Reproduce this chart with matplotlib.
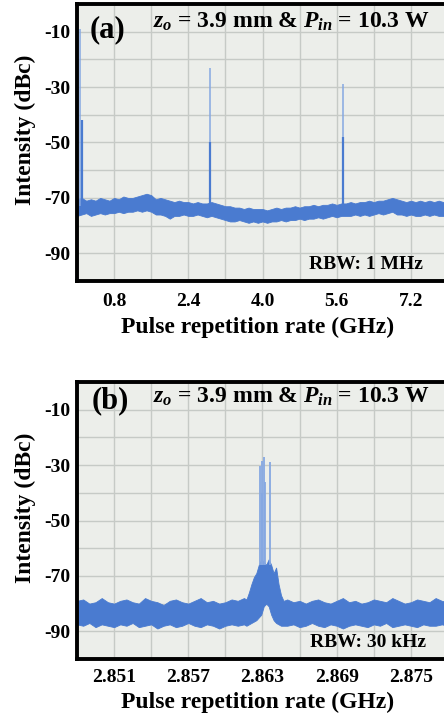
import matplotlib
matplotlib.use('Agg')
import matplotlib.pyplot as plt
import numpy as np

plt.rcParams['font.family'] = 'Liberation Serif'
plt.rcParams['font.weight'] = 'bold'
plt.rcParams['axes.unicode_minus'] = False
plt.rcParams['mathtext.fontset'] = 'custom'
plt.rcParams['mathtext.rm'] = 'Liberation Serif:bold'
plt.rcParams['mathtext.it'] = 'Liberation Serif:italic:bold'
plt.rcParams['mathtext.bf'] = 'Liberation Serif:bold'

# ---- (a) wide span, 0 - 8 GHz ----
fa = np.round(np.arange(0, 8.01, 0.1), 2)
top_a = [-70.5, -70.0, -71.0, -70.5, -71.0, -70.0, -70.5, -71.0, -70.0, -70.5,
         -69.5, -70.0, -70.0, -69.5, -69.0, -68.5, -69.0, -70.5, -70.0, -70.5,
         -71.0, -71.5, -71.0, -71.5, -71.5, -72.0, -71.5, -72.0, -72.0, -71.5,
         -72.0, -72.5, -73.0, -73.0, -73.5, -73.5, -74.0, -73.5, -74.0, -74.0,
         -74.0, -74.5, -74.0, -73.5, -74.0, -73.5, -73.5, -73.0, -73.5, -73.0,
         -73.0, -72.5, -73.0, -72.5, -72.5, -72.0, -72.5, -72.0, -72.0, -71.5,
         -72.0, -71.5, -71.5, -71.0, -71.5, -71.0, -71.0, -70.5, -70.0, -70.5,
         -71.0, -71.5, -71.0, -71.5, -71.0, -71.5, -71.0, -71.5, -71.0, -71.5, -71.5]
bot_a = [-76.5, -76.0, -75.5, -76.5, -76.0, -75.5, -76.0, -75.5, -75.5, -75.0,
         -75.5, -75.0, -75.0, -74.5, -75.0, -74.5, -75.0, -76.0, -76.0, -76.5,
         -77.5, -76.5, -76.5, -76.0, -76.5, -76.5, -76.0, -76.5, -77.0, -76.5,
         -77.0, -77.5, -78.0, -78.5, -78.5, -78.0, -78.5, -79.0, -78.5, -79.0,
         -78.5, -79.0, -78.5, -78.5, -78.0, -78.5, -78.0, -78.0, -77.5, -78.0,
         -77.5, -77.5, -77.0, -77.5, -77.0, -76.5, -77.0, -76.5, -76.5, -76.5,
         -76.0, -76.5, -76.0, -76.5, -76.0, -75.5, -76.0, -75.5, -75.0, -76.0,
         -76.0, -76.5, -76.0, -76.5, -76.5, -76.0, -76.5, -76.0, -76.5, -76.5, -76.0]
# harmonic lines (thin upper part, stronger lower part)
line_a_f = [0.07, 0.10, 2.863, 2.863, 5.726, 5.726]
line_a_top = [-9.0, -42.0, -23.0, -50.0, -29.0, -48.0]
line_a_strong = [False, True, False, True, False, True]

# ---- (b) zoom round the fundamental ----
fb_left = np.round(np.arange(2.848, 2.86151, 0.0005), 4)
top_b_left = [-79.0, -78.5, -80.0, -79.5, -78.0, -79.5, -80.0, -79.0, -78.5, -79.5,
              -80.0, -78.0, -79.0, -79.5, -80.5, -79.0, -78.5, -79.5, -80.0, -79.0,
              -78.0, -79.5, -79.0, -80.0, -79.5, -78.5, -79.0, -78.0]
bot_b_left = [-87.5, -88.0, -87.0, -88.5, -87.5, -88.0, -88.5, -87.5, -88.0, -87.0,
              -88.5, -88.0, -87.5, -89.0, -88.0, -87.5, -88.5, -88.0, -87.0, -88.0,
              -88.5, -87.5, -88.0, -89.0, -88.0, -87.5, -88.0, -87.5]
fb_mid = [2.8617, 2.8619, 2.8621, 2.8623, 2.8625, 2.8627, 2.8629, 2.8631,
          2.8633, 2.8635, 2.8637, 2.8639, 2.8641, 2.8643, 2.8645, 2.8647]
top_b_mid = [-78.5, -76.0, -73.0, -70.5, -69.0, -66.0, -64.0, -65.0,
             -66.0, -64.0, -66.0, -69.0, -67.0, -73.0, -77.0, -79.0]
bot_b_mid = [-88.0, -87.5, -87.0, -86.5, -86.0, -85.0, -84.0, -81.0,
             -80.0, -81.0, -84.0, -86.0, -87.0, -87.5, -88.0, -88.0]
fb_right = np.round(np.arange(2.865, 2.87801, 0.0005), 4)
top_b_right = [-78.5, -79.5, -79.0, -80.0, -79.0, -78.5, -79.5, -80.0, -79.0, -78.0,
               -79.5, -79.0, -80.0, -79.5, -78.5, -79.0, -79.5, -78.0, -79.0, -80.0,
               -79.5, -78.5, -79.0, -79.5, -78.0, -79.0, -79.5]
bot_b_right = [-88.0, -87.5, -88.5, -88.0, -87.0, -88.0, -88.5, -87.5, -88.0, -89.0,
               -88.0, -87.5, -88.0, -88.5, -87.5, -88.0, -87.0, -88.5, -88.0, -87.5,
               -88.0, -88.5, -87.5, -88.0, -88.0, -87.5, -88.0]
line_b_f = [2.86283, 2.86292, 2.86300, 2.86310, 2.86318, 2.86360]
line_b_top = [-30.5, -40.0, -28.5, -27.0, -36.0, -29.0]

fb = np.concatenate([fb_left, fb_mid, fb_right])
top_b = np.concatenate([top_b_left, top_b_mid, top_b_right])
bot_b = np.concatenate([bot_b_left, bot_b_mid, bot_b_right])

blue = '#4a7bd0'
light = '#86a8e2'
bg = '#eceeea'
gridc = '#c6cac6'
title = r'$z_o$ = 3.9 mm & $P_{in}$ = 10.3 W'

fig = plt.figure(figsize=(4.44, 7.19), dpi=100)
ax1 = fig.add_axes([77/444, 1-281/719, 371/444, 277/719])
ax2 = fig.add_axes([77/444, 1-659/719, 371/444, 277/719])

def style(ax, xlim, xmajor, xminor, xlabels, xpad, xlab_y):
    ax.set_facecolor(bg)
    ax.set_xlim(xlim)
    ax.set_ylim(-100, 0)
    ax.set_xticks(xmajor)
    ax.set_xticklabels(xlabels)
    ax.set_xticks(xminor, minor=True)
    ax.set_yticks([-10, -30, -50, -70, -90])
    ax.set_yticks(np.arange(-100, 1, 10), minor=True)
    ax.grid(True, which='both', color=gridc, lw=1.0)
    ax.set_axisbelow(True)
    ax.tick_params(which='both', length=0, labelsize=14)
    ax.tick_params(axis='x', pad=xpad)
    ax.tick_params(axis='y', pad=5)
    for s in ax.spines.values():
        s.set_linewidth(2.8)
    ax.spines['right'].set_visible(False)
    ax.set_xlabel('Pulse repetition rate (GHz)', fontsize=17, fontweight='bold')
    ax.xaxis.set_label_coords(0.487, xlab_y)
    ax.set_ylabel('Intensity (dBc)', fontsize=17, fontweight='bold')
    ax.yaxis.set_label_coords(-0.11, 0.545)

# (a)
for f, t, strong in zip(line_a_f, line_a_top, line_a_strong):
    ax1.vlines(f, -73, t, color=blue if strong else light, lw=1.6 if strong else 1.1)
ax1.fill_between(fa, bot_a, top_a, color=blue, lw=0.6, edgecolor=blue)
style(ax1, (0, 8.0), [0.8, 2.4, 4.0, 5.6, 7.2], np.arange(0, 8.01, 0.8),
      ['0.8', '2.4', '4.0', '5.6', '7.2'], 9, -0.131)
ax1.text(0.035, 0.881, '(a)', transform=ax1.transAxes, fontsize=22, fontweight='bold',
         va='baseline')
ax1.text(0.205, 0.913, title, transform=ax1.transAxes, fontsize=17, fontweight='bold',
         va='baseline')
ax1.text(0.933, 0.058, 'RBW: 1 MHz', transform=ax1.transAxes, fontsize=14,
         fontweight='bold', ha='right', va='center')

# (b)
ax2.fill_between(fb, bot_b, top_b, color=blue, lw=0.6, edgecolor=blue)
ax2.vlines(line_b_f, -66, line_b_top, color=light, lw=1.3)
style(ax2, (2.848, 2.878), [2.851, 2.857, 2.863, 2.869, 2.875],
      np.arange(2.848, 2.8781, 0.003), ['2.851', '2.857', '2.863', '2.869', '2.875'],
      7, -0.117)
ax2.text(0.04, 0.906, '(b)', transform=ax2.transAxes, fontsize=22, fontweight='bold',
         va='baseline')
ax2.text(0.205, 0.924, title, transform=ax2.transAxes, fontsize=17, fontweight='bold',
         va='baseline')
ax2.text(0.94, 0.061, 'RBW: 30 kHz', transform=ax2.transAxes, fontsize=14,
         fontweight='bold', ha='right', va='center')

fig.savefig('out.png', dpi=100, facecolor='white')
